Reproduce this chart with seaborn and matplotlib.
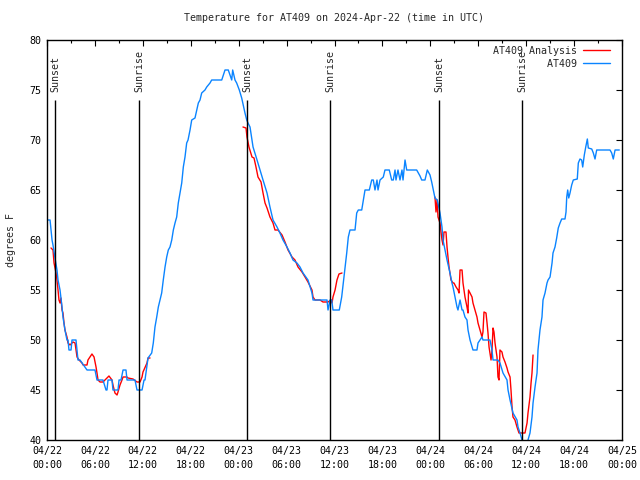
import numpy as np
import pandas as pd
import matplotlib
matplotlib.use("Agg")
import matplotlib.pyplot as plt
import matplotlib.dates as mdates
import seaborn as sns
from matplotlib.lines import Line2D

# --- data (hours after 2024-04-22 00:00 UTC, degrees F) ---
obs_hours = [0.13, 0.38, 0.50, 0.63, 0.75, 1.00, 1.25, 1.38, 1.63, 1.88, 2.00, 2.25, 2.50, 2.63,
             2.75, 3.01, 3.13, 3.63, 3.76, 3.88, 4.13, 5.01, 6.01, 6.26, 7.01, 7.39, 7.51, 7.64,
             8.14, 8.26, 8.89, 9.02, 9.27, 9.52, 9.89, 10.02, 11.02, 11.27, 11.90, 12.15, 12.27,
             12.65, 13.11, 13.31, 13.52, 13.74, 13.94, 14.15, 14.36, 14.56, 14.78, 14.99, 15.19,
             15.40, 15.62, 15.82, 16.03, 16.24, 16.44, 16.65, 16.87, 17.07, 17.28, 17.49, 17.66,
             17.91, 18.12, 18.53, 18.75, 18.95, 19.16, 19.37, 19.78, 20.00, 20.41, 20.62, 21.88,
             22.08, 22.29, 22.70, 22.92, 23.13, 23.25, 23.54, 23.75, 24.08, 24.38, 24.79, 25.01,
             25.17, 25.42, 25.80, 26.30, 26.67, 27.05, 27.55, 27.92, 28.30, 28.80, 29.17, 29.55,
             30.05, 30.43, 30.80, 31.30, 31.68, 32.06, 32.68, 33.18, 33.31, 35.06, 35.19, 35.44,
             35.65, 35.81, 36.60, 36.90, 37.10, 37.32, 37.53, 37.73, 37.94, 38.57, 38.78, 38.98,
             39.41, 39.61, 39.82, 40.36, 40.66, 40.86, 41.07, 41.32, 41.45, 41.70, 42.11, 42.32,
             42.86, 43.16, 43.36, 43.58, 43.70, 43.95, 44.20, 44.45, 44.58, 44.83, 45.04, 46.29,
             46.71, 46.92, 47.33, 47.62, 47.96, 48.17, 48.37, 48.58, 48.87, 49.00, 49.21, 49.46,
             49.59, 49.84, 50.09, 50.46, 50.71, 50.84, 51.09, 51.34, 51.46, 51.72, 51.97, 52.09,
             52.34, 52.59, 52.72, 52.97, 53.34, 53.84, 53.97, 54.22, 54.47, 54.59, 55.47, 55.72,
             55.85, 56.47, 56.72, 57.10, 57.60, 57.73, 57.98, 58.35, 58.85, 58.98, 59.23, 59.48,
             59.73, 60.11, 60.23, 60.48, 60.73, 60.86, 61.11, 61.36, 61.48, 61.73, 61.98, 62.11,
             62.36, 62.61, 62.74, 62.99, 63.24, 63.36, 63.61, 63.82, 64.02, 64.24, 64.45, 64.86,
             64.99, 65.08, 65.20, 65.33, 65.49, 65.70, 65.90, 66.40, 66.53, 66.74, 66.95, 67.08,
             67.28, 67.46, 67.66, 67.78, 68.21, 68.41, 68.62, 68.83, 70.50, 70.71, 70.91, 71.13,
             71.66]
obs_temps = [62.0, 62.0, 61.0, 60.0, 59.5, 58.2, 57.0, 56.0, 55.0, 53.3, 52.3, 51.0, 50.0, 50.0,
             49.0, 49.0, 50.0, 50.0, 49.0, 48.0, 48.0, 47.0, 47.0, 46.0, 46.0, 45.0, 45.0, 46.0,
             46.0, 45.0, 45.0, 46.0, 46.0, 47.0, 47.0, 46.0, 46.0, 45.0, 45.0, 46.0, 46.0,
             48.2, 48.7, 49.7, 51.3, 52.3, 53.3, 54.0, 54.7, 56.0, 57.3, 58.3, 59.0,
             59.3, 60.0, 61.0, 61.7, 62.3, 63.7, 64.7, 65.7, 67.3, 68.3, 69.7, 70.0,
             71.0, 72.0, 72.2, 73.0, 73.7, 74.0, 74.7, 75.0, 75.3, 75.7, 76.0, 76.0,
             76.5, 77.0, 77.0, 76.5, 76.0, 77.0, 76.0, 75.7, 75.0, 74.2, 72.7, 72.0,
             71.7, 71.3, 69.3, 68.0, 67.0, 66.0, 64.7, 63.3, 62.0, 61.3, 60.7, 60.0,
             59.3, 58.7, 58.0, 57.7, 57.3, 56.7, 56.0, 54.7, 54.0, 54.0, 53.0, 54.0,
             54.0, 53.0, 53.0, 54.3, 55.7, 57.3, 58.7, 60.3, 61.0, 61.0, 62.7, 63.0,
             63.0, 64.0, 65.0, 65.0, 66.0, 66.0, 65.0, 66.0, 65.0, 66.0, 66.3, 67.0,
             67.0, 66.0, 66.0, 67.0, 66.0, 67.0, 66.0, 67.0, 66.0, 68.0, 67.0, 67.0,
             66.4, 66.0, 66.0, 67.0, 66.5, 65.8, 65.0, 64.2, 64.0, 63.5, 62.7, 61.3,
             60.0, 59.0, 58.0, 56.7, 55.7, 55.3, 54.3, 53.3, 53.0, 54.0, 53.0, 53.0,
             52.3, 52.0, 51.0, 50.0, 49.0, 49.0, 49.7, 50.0, 50.3, 50.0, 50.0, 49.0,
             48.0, 48.0, 47.7, 46.7, 46.0, 45.0, 44.0, 42.7, 42.0, 41.3, 40.7, 40.0,
             38.0, 38.0, 40.0, 40.7, 42.3, 43.7, 45.3, 46.7, 49.0, 51.0, 52.3, 54.0,
             54.7, 55.7, 56.0, 56.3, 57.7, 58.7, 59.3, 60.2, 61.2, 61.7, 62.1, 62.1,
             62.8, 64.3, 65.0, 64.2, 64.7, 65.5, 66.0, 66.1, 67.7, 68.1, 68.0, 67.3,
             68.5, 69.3, 70.1, 69.2, 69.1, 68.7, 68.1, 69.0, 69.0, 68.7, 68.1, 69.0,
             69.0]

ana_hours_1 = [0.50, 0.75, 0.88, 1.13, 1.25, 1.38, 1.50, 1.63, 1.75, 1.88, 2.00, 2.13, 2.25,
               2.50, 2.63, 2.88, 3.13, 3.26, 3.51, 3.76, 4.01, 4.38, 4.51, 5.01, 5.13, 5.38,
               5.63, 5.89, 6.14, 6.26, 6.39, 6.64, 7.01, 7.51, 7.76, 8.14, 8.26, 8.51, 8.77,
               8.89, 9.14, 9.39, 9.52, 10.02, 10.14, 10.77, 11.27, 11.65, 11.90, 12.02, 12.52,
               12.65, 12.90]
ana_temps_1 = [59.2, 59.0, 57.7, 56.7, 56.0, 55.0, 54.0, 53.7, 54.2, 53.0, 52.7, 51.7, 51.0,
               50.3, 49.7, 49.5, 49.7, 49.8, 49.7, 48.3, 48.0, 47.7, 47.5, 47.5, 48.0, 48.3,
               48.6, 48.3, 47.3, 46.7, 46.0, 45.8, 45.8, 46.2, 46.4, 46.0, 45.5, 44.7, 44.5,
               44.8, 45.5, 46.0, 46.3, 46.3, 46.2, 46.1, 45.8, 45.8, 46.3, 46.8, 47.7,
               48.2, 48.2]

ana_hours_2 = [24.54, 24.92, 25.04, 25.29, 25.67, 25.92, 26.17, 26.42, 26.80, 27.05, 27.30,
               27.55, 27.92, 28.30, 28.55, 28.93, 29.43, 29.80, 30.18, 30.68, 31.05, 31.43,
               31.93, 32.31, 32.68, 33.18, 33.31, 33.56, 34.19, 34.56, 35.19, 35.56, 35.69,
               35.81, 36.07, 36.31, 36.56, 36.94]
ana_temps_2 = [71.3, 71.2, 70.3, 69.3, 68.3, 68.2, 67.3, 66.3, 65.8, 64.7, 63.7,
               63.2, 62.3, 61.7, 61.0, 61.0, 60.5, 59.8, 59.0, 58.3, 58.0, 57.3,
               56.8, 56.3, 55.8, 55.0, 54.3, 54.0, 54.0, 53.8, 53.8, 54.0, 53.7,
               54.3, 55.0, 56.0, 56.6, 56.7]

ana_hours_3 = [48.58, 48.71, 48.84, 48.96, 49.21, 49.34, 49.46, 49.59, 49.71, 49.96, 50.09,
               50.21, 50.34, 50.59, 50.84, 50.96, 51.22, 51.47, 51.59, 51.72, 51.97, 52.09,
               52.34, 52.59, 52.72, 52.78, 52.97, 53.22, 53.34, 53.59, 53.84, 53.97, 54.22,
               54.47, 54.59, 54.72, 54.97, 55.10, 55.22, 55.35, 55.60, 55.72, 55.85, 55.97,
               56.10, 56.35, 56.47, 56.60, 56.72, 56.97, 57.10, 57.35, 57.60, 57.73, 57.98,
               58.10, 58.23, 58.35, 58.60, 58.85, 59.10, 59.48, 59.85, 60.11, 60.23, 60.48,
               60.61, 60.73, 60.86]
ana_temps_3 = [64.3, 62.8, 64.0, 62.3, 61.7, 60.8, 60.0, 59.5, 60.8, 60.8, 59.3,
               58.3, 57.3, 56.0, 55.7, 55.7, 55.3, 55.0, 54.7, 57.0, 57.0, 55.7,
               54.3, 53.3, 52.7, 55.0, 54.7, 54.3, 53.7, 53.0, 52.3, 51.7, 51.0,
               50.3, 50.8, 52.8, 52.7, 51.7, 50.7, 49.3, 48.0, 49.0, 51.2, 50.8,
               49.7, 48.3, 46.3, 46.0, 49.0, 48.8, 48.3, 47.8, 47.2, 46.8, 46.3,
               45.0, 43.3, 42.3, 42.0, 41.3, 40.7, 40.7, 40.7, 41.7, 42.7, 44.3,
               45.7, 46.7, 48.5]

sun_hours = [1.0, 11.52, 25.04, 35.44, 49.09, 59.48]
sun_labels = ["Sunset", "Sunrise", "Sunset", "Sunrise", "Sunset", "Sunrise"]

series_names = ["AT409 Analysis", "AT409"]
series_colors = {"AT409 Analysis": "#ff0000", "AT409": "#0a84ff"}

start = pd.Timestamp("2024-04-22 00:00")


def to_time(hours):
    return start + pd.to_timedelta(np.asarray(hours), unit="h")


frames = []
for seg, (h, t) in enumerate([(ana_hours_1, ana_temps_1), (ana_hours_2, ana_temps_2),
                              (ana_hours_3, ana_temps_3)]):
    frames.append(pd.DataFrame({"time": to_time(h), "temp": t,
                                "series": "AT409 Analysis", "segment": seg}))
frames.append(pd.DataFrame({"time": to_time(obs_hours), "temp": obs_temps,
                            "series": "AT409", "segment": 10}))
df = pd.concat(frames, ignore_index=True)

sns.set_style("white")
plt.rcParams["font.family"] = ["DejaVu Sans Mono"]
plt.rcParams["font.size"] = 7.2

fig = plt.figure(figsize=(6.4, 4.8), dpi=100)
ax = fig.add_axes([47 / 640, 40 / 480, 575 / 640, 400 / 480])

sns.lineplot(data=df, x="time", y="temp", hue="series", units="segment",
             estimator=None, sort=False, hue_order=series_names,
             palette=series_colors, linewidth=1.0, legend=False, ax=ax)

# sunrise / sunset markers
ax.vlines(to_time(sun_hours), 40, 74, colors="black", linewidth=1.0)
for t, lbl in zip(to_time(sun_hours), sun_labels):
    ax.text(t, 74.8, lbl, rotation=90, ha="center", va="bottom", fontsize=7.2)

ax.set_xlim(start, start + pd.Timedelta(hours=72))
ax.set_ylim(40, 80)
ax.set_yticks(range(40, 81, 5))
ax.xaxis.set_major_locator(mdates.HourLocator(byhour=range(0, 24, 6)))
ax.xaxis.set_minor_locator(mdates.HourLocator(byhour=range(0, 24, 3)))
ax.xaxis.set_major_formatter(mdates.DateFormatter("%m/%d\n%H:%M"))

ax.tick_params(which="both", direction="in", top=True, right=True,
               color="black", labelsize=7.2, labelcolor="black")
ax.tick_params(which="major", length=4.5, width=0.8, pad=4)
ax.tick_params(which="minor", length=2.5, width=0.8)
for s in ax.spines.values():
    s.set_color("black")
    s.set_linewidth(1.0)

ax.set_xlabel("")
ax.set_ylabel("degrees F", fontsize=7.2, labelpad=10)
ax.set_title("Temperature for AT409 on 2024-Apr-22 (time in UTC)", fontsize=7.2, pad=14)

handles = [Line2D([], [], color=series_colors[n], linewidth=1.0) for n in series_names]
ax.legend(handles, ["AT409 Analysis", "         AT409"], loc="upper right",
          bbox_to_anchor=(1 - 12 / 575, 1 - 6 / 400), frameon=False, markerfirst=False,
          borderaxespad=0, borderpad=0, handlelength=2.7, handletextpad=0.6,
          labelspacing=0.3, fontsize=7.2)

fig.canvas.draw()
for lbl in ax.get_xticklabels():
    lbl.set_linespacing(1.5)

fig.savefig("out.png", dpi=100, facecolor="white")
